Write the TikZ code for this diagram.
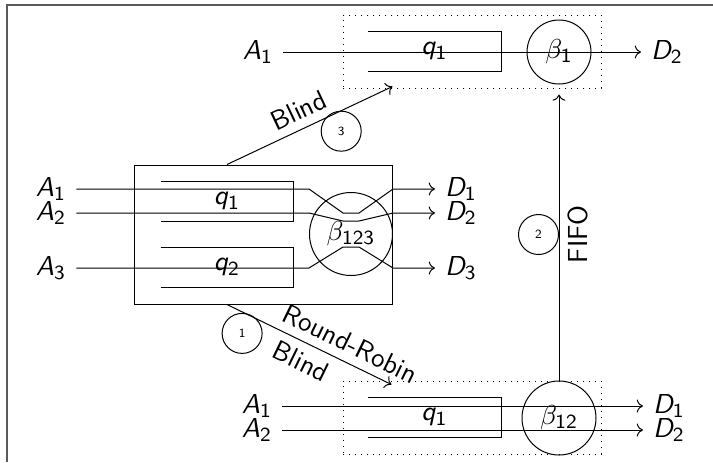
\documentclass[tikz,border=0pt]{standalone}
\usepackage{amsmath}
\usetikzlibrary{arrows.meta,positioning,calc}
\DeclareMathAlphabet{\mathsfit}{OT1}{cmss}{m}{sl}
\newcommand{\sv}[2]{\ensuremath{\mathsfit{#1}_{\mathsf{#2}}}}
\newcommand{\sbeta}[1]{\ensuremath{\beta_{\mathsf{#1}}}}
\definecolor{framegray}{HTML}{5A5A5A}

\begin{document}
\begin{tikzpicture}[x=0.4pt,y=-0.4pt,font=\fontsize{11}{13}\selectfont\sffamily,
  lbl/.style={inner sep=3.9pt},
  queue/.style={minimum width=52.8pt,minimum height=15.6pt,inner sep=0pt},
  srv/.style={draw,circle,inner sep=0pt},
  grp/.style={draw,dotted,minimum width=103.2pt,minimum height=29.2pt},
  num/.style={draw,circle,minimum size=16pt,inner sep=0pt,font=\sffamily\tiny},
  arr/.style={->}]
\useasboundingbox (0,0) rectangle (713,462);
\draw[framegray,line width=0.8pt] (7,462)--(7,5)--(713,5);
% shared server
\node[draw,minimum width=102.8pt,minimum height=55.6pt] (sys) at (263.5,234.5) {};
\node[queue] (sq1) at (227,201.5) {\sv{q}{1}};
\node[queue] (sq2) at (227,267.5) {\sv{q}{2}};
\node[srv,minimum size=33.2pt] (b123) at (351,234) {\sbeta{123}};
\node[lbl] (sa1) at (51,189) {\sv{A}{1}};
\node[lbl] (sa2) at (51,213) {\sv{A}{2}};
\node[lbl] (sa3) at (51,268) {\sv{A}{3}};
\node[lbl] (sd1) at (461,189) {\sv{D}{1}};
\node[lbl] (sd2) at (461,213) {\sv{D}{2}};
\node[lbl] (sd3) at (461,268) {\sv{D}{3}};
% dedicated server
\node[grp] (top) at (472,51.5) {};
\node[queue] (tq1) at (434.5,51.5) {\sv{q}{1}};
\node[srv,minimum size=25.6pt] (b1) at (559,52) {\sbeta{1}};
\node[lbl] (ta1) at (258,52) {\sv{A}{1}};
\node[lbl] (td2) at (667,52) {\sv{D}{2}};
% two-class server
\node[grp] (bot) at (472,417.5) {};
\node[queue] (bq1) at (434.5,417.5) {\sv{q}{1}};
\node[srv,minimum size=29.6pt] (b12) at (559,418) {\sbeta{12}};
\node[lbl] (ba1) at (257,406) {\sv{A}{1}};
\node[lbl] (ba2) at (257,430) {\sv{A}{2}};
\node[lbl] (bd1) at (669,406) {\sv{D}{1}};
\node[lbl] (bd2) at (669,430) {\sv{D}{2}};
\foreach \q in {sq1,sq2,tq1,bq1}
  \draw (\q.north west)--(\q.north east)--(\q.south east)--(\q.south west);
% flows
\draw[arr] (sa1)--(b123.west|-sa1)--($(b123)+(-8,-21)$)--($(b123)+(8,-21)$)--(b123.east|-sd1)--(sd1);
\draw[arr] (sa2)--(b123.west|-sa2)--($(b123)+(-8,-13)$)--($(b123)+(8,-13)$)--(b123.east|-sd2)--(sd2);
\draw[arr] (sa3)--(b123.west|-sa3)--($(b123)+(-8,13)$)--($(b123)+(8,13)$)--(b123.east|-sd3)--(sd3);
\draw[arr] (ta1)--(td2);
\draw[arr] (ba1)--(bd1);
\draw[arr] (ba2)--(bd2);
% policies
\draw[arr] (sq2|-sys.south)--node[sloped,above,pos=0.7]{Round-Robin}
  node[sloped,below,pos=0.5]{Blind} node[num,pos=0.18,below left=0pt] (n1) {1}
  ($(bot.north west)+(49,4)$);
\draw[arr,shorten >=2.4pt] (b12)--node[sloped,below]{FIFO} node[num,left=0pt] (n2) {2} (b12|-top.south);
\draw[arr] (sq1|-sys.north)--node[sloped,above,pos=0.48]{Blind}
  node[num,pos=0.69,below=0pt] (n3) {3} ($(top.south west)+(50,-2)$);
\end{tikzpicture}
\end{document}
